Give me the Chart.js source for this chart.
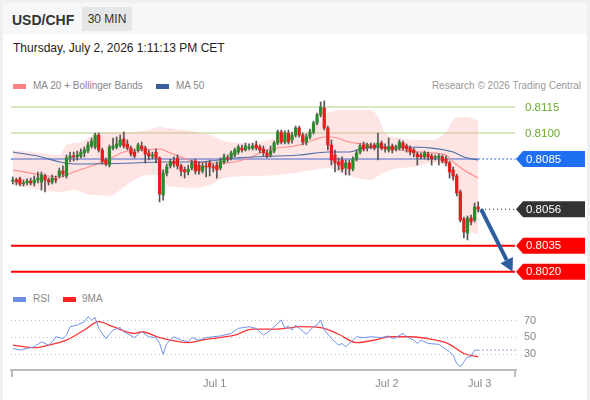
<!DOCTYPE html>
<html><head><meta charset="utf-8">
<script src="https://cdn.jsdelivr.net/npm/chart.js@4.4.1/dist/chart.umd.min.js"></script>
<style>
html,body{margin:0;padding:0;background:#eef0f2;}
body{width:590px;height:400px;position:relative;overflow:hidden;font-family:"Liberation Sans",Arial,sans-serif;}
#card{position:absolute;left:3px;top:3px;width:584px;height:397px;background:#fff;}
#hdr{position:absolute;left:3px;top:3px;width:584px;height:31px;background:#f6f7f8;}
.title{position:absolute;left:12px;top:12px;font-size:14px;font-weight:bold;color:#333;line-height:16px;}
.badge{position:absolute;left:82px;top:7px;width:50px;height:24px;line-height:24px;text-align:center;background:#e5e6e8;color:#333;font-size:12px;}
.date{position:absolute;left:13px;top:41px;font-size:12px;color:#222;line-height:15px;}
.leg{position:absolute;font-size:10px;color:#888;line-height:12px;}
.sw{position:absolute;height:5px;width:13px;}
canvas{position:absolute;left:0;}
</style>
</head><body>
<div id="card"></div>
<div id="hdr"></div>
<div class="title">USD/CHF</div>
<div class="badge">30 MIN</div>
<div class="date">Thursday, July 2, 2026 1:11:13 PM CET</div>
<div class="sw" style="left:13px;top:84px;background:#ff8080;"></div>
<div class="leg" style="left:33px;top:80px;">MA 20 + Bollinger Bands</div>
<div class="sw" style="left:156px;top:84px;background:#3b5f9e;"></div>
<div class="leg" style="left:176px;top:80px;">MA 50</div>
<div class="leg" style="right:9px;top:80px;color:#999;">Research © 2026 Trading Central</div>
<div class="sw" style="left:13px;top:297px;background:#6d8ee6;"></div>
<div class="leg" style="left:33px;top:293px;">RSI</div>
<div class="sw" style="left:63px;top:297px;background:#ff2020;"></div>
<div class="leg" style="left:82px;top:293px;">9MA</div>
<canvas id="main" width="590" height="200" style="top:90px;width:590px;height:200px;"></canvas>
<canvas id="rsi" width="590" height="100" style="top:300px;width:590px;height:100px;"></canvas>
<script>
// ---------- DATA ----------
const candleOpen = [0.80723,0.80729,0.80735,0.80706,0.80712,0.80723,0.80712,0.80729,0.80717,0.80752,
0.80729,0.80717,0.80735,0.80752,0.80781,0.80752,0.80856,0.80867,0.80862,0.80867,
0.80885,0.80896,0.80925,0.80919,0.80988,0.80902,0.80844,0.80815,0.80913,0.80919,
0.80931,0.80965,0.80937,0.80913,0.80890,0.80902,0.80925,0.80913,0.80885,0.80867,
0.80890,0.80856,0.80642,0.80769,0.80810,0.80838,0.80856,0.80810,0.80787,0.80775,
0.80798,0.80838,0.80815,0.80781,0.80810,0.80827,0.80804,0.80815,0.80798,0.80833,
0.80856,0.80856,0.80873,0.80890,0.80913,0.80902,0.80913,0.80913,0.80931,0.80919,
0.80908,0.80885,0.80873,0.80896,0.80942,0.81006,0.80948,0.81000,0.80960,0.80988,
0.81029,0.80988,0.80948,0.80977,0.81006,0.81058,0.81104,0.81144,0.81029,0.80931,
0.80873,0.80833,0.80844,0.80798,0.80827,0.80792,0.80850,0.80890,0.80931,0.80913,
0.80925,0.80931,0.80919,0.80942,0.80919,0.80902,0.80925,0.80908,0.80913,0.80942,
0.80925,0.80913,0.80902,0.80879,0.80873,0.80862,0.80879,0.80867,0.80856,0.80856,
0.80862,0.80850,0.80827,0.80787,0.80752,0.80660,0.80504,0.80423,0.80510,0.80498,
0.80573];
const candleHigh = [0.80746,0.80740,0.80746,0.80729,0.80735,0.80740,0.80752,0.80775,0.80775,0.80763,
0.80740,0.80758,0.80752,0.80798,0.80810,0.80873,0.80890,0.80890,0.80896,0.80908,
0.80919,0.80948,0.80971,0.81000,0.81000,0.80913,0.80856,0.80931,0.80971,0.80977,
0.80988,0.81006,0.80960,0.80925,0.80908,0.80942,0.80948,0.80925,0.80902,0.80890,
0.80908,0.80862,0.80787,0.80821,0.80850,0.80862,0.80873,0.80821,0.80804,0.80815,
0.80844,0.80850,0.80833,0.80827,0.80833,0.80844,0.80821,0.80833,0.80856,0.80879,
0.80873,0.80896,0.80913,0.80931,0.80931,0.80942,0.80937,0.80942,0.80954,0.80931,
0.80925,0.80902,0.80925,0.80954,0.81017,0.81017,0.81012,0.81017,0.81006,0.81040,
0.81040,0.81000,0.80994,0.81023,0.81069,0.81115,0.81179,0.81185,0.81040,0.80960,
0.80902,0.80856,0.80862,0.80844,0.80844,0.80862,0.80902,0.80937,0.80948,0.80942,
0.80942,0.80942,0.81000,0.80954,0.80937,0.80971,0.80937,0.80931,0.80960,0.80954,
0.80937,0.80925,0.80913,0.80890,0.80885,0.80896,0.80890,0.80879,0.80873,0.80879,
0.80873,0.80867,0.80838,0.80804,0.80763,0.80671,0.80515,0.80521,0.80527,0.80596,
0.80602];
const candleLow = [0.80706,0.80700,0.80694,0.80694,0.80700,0.80700,0.80694,0.80712,0.80671,0.80660,
0.80700,0.80706,0.80712,0.80740,0.80746,0.80740,0.80833,0.80838,0.80844,0.80856,
0.80862,0.80885,0.80913,0.80908,0.80890,0.80821,0.80810,0.80804,0.80902,0.80908,
0.80919,0.80913,0.80902,0.80867,0.80856,0.80890,0.80896,0.80827,0.80844,0.80850,
0.80827,0.80602,0.80613,0.80752,0.80798,0.80804,0.80792,0.80752,0.80740,0.80758,
0.80787,0.80763,0.80763,0.80769,0.80746,0.80752,0.80775,0.80740,0.80787,0.80821,
0.80833,0.80844,0.80862,0.80879,0.80890,0.80896,0.80902,0.80902,0.80902,0.80885,
0.80867,0.80856,0.80862,0.80885,0.80931,0.80937,0.80937,0.80937,0.80942,0.80977,
0.80977,0.80931,0.80931,0.80965,0.80994,0.81046,0.81092,0.81017,0.80902,0.80815,
0.80775,0.80787,0.80775,0.80758,0.80758,0.80781,0.80838,0.80879,0.80896,0.80896,
0.80908,0.80902,0.80844,0.80902,0.80890,0.80890,0.80885,0.80896,0.80902,0.80902,
0.80890,0.80873,0.80862,0.80815,0.80850,0.80850,0.80844,0.80815,0.80844,0.80815,
0.80827,0.80810,0.80740,0.80729,0.80637,0.80487,0.80394,0.80383,0.80469,0.80487,
0.80544];
const candleClose = [0.80729,0.80717,0.80706,0.80712,0.80723,0.80712,0.80729,0.80740,0.80758,0.80729,
0.80717,0.80740,0.80729,0.80781,0.80763,0.80856,0.80867,0.80862,0.80873,0.80890,
0.80902,0.80931,0.80954,0.80988,0.80902,0.80838,0.80821,0.80919,0.80925,0.80937,
0.80960,0.80925,0.80913,0.80879,0.80867,0.80931,0.80908,0.80879,0.80867,0.80873,
0.80856,0.80648,0.80769,0.80804,0.80833,0.80821,0.80810,0.80781,0.80775,0.80792,
0.80827,0.80781,0.80781,0.80810,0.80804,0.80804,0.80798,0.80787,0.80838,0.80862,
0.80850,0.80885,0.80902,0.80919,0.80902,0.80925,0.80919,0.80925,0.80913,0.80902,
0.80885,0.80867,0.80896,0.80942,0.81006,0.80948,0.81000,0.80948,0.80988,0.81029,
0.80988,0.80948,0.80977,0.81006,0.81058,0.81104,0.81150,0.81029,0.80931,0.80844,
0.80827,0.80815,0.80792,0.80827,0.80792,0.80850,0.80885,0.80925,0.80908,0.80931,
0.80919,0.80913,0.80942,0.80913,0.80908,0.80919,0.80902,0.80913,0.80948,0.80913,
0.80908,0.80890,0.80885,0.80862,0.80862,0.80885,0.80862,0.80850,0.80862,0.80867,
0.80838,0.80827,0.80775,0.80752,0.80654,0.80498,0.80429,0.80510,0.80487,0.80573,
0.80560];

const bbIdx   = [0,8,13,15,17,19,22,23,27,30,31,34,38,41,43,45,50,55,59,66,74,84,88,93,100,102,104,108,112,117,121,123,125,127,130];
const bbUpper = [0.80902,0.80885,0.80873,0.80931,0.80942,0.80948,0.80983,0.81000,0.81006,0.81006,0.81006,0.81006,0.81017,0.81035,0.81029,0.81023,0.81012,0.80988,0.80954,0.80942,0.80971,0.81029,0.81115,0.81133,0.81133,0.81092,0.81000,0.80971,0.80960,0.80960,0.81006,0.81075,0.81092,0.81092,0.81069];
const bbLower = [0.80700,0.80671,0.80660,0.80665,0.80671,0.80660,0.80642,0.80642,0.80637,0.80671,0.80688,0.80729,0.80758,0.80758,0.80700,0.80688,0.80683,0.80700,0.80740,0.80752,0.80758,0.80787,0.80798,0.80758,0.80729,0.80752,0.80775,0.80798,0.80804,0.80827,0.80815,0.80717,0.80567,0.80452,0.80412];

const ma20Idx = [0,8,13,17,22,27,31,37,41,44,47,50,55,59,66,71,80,84,87,89,94,100,108,117,121,123,126,130];
const ma20Val = [0.80787,0.80758,0.80746,0.80775,0.80810,0.80850,0.80890,0.80902,0.80908,0.80885,0.80862,0.80838,0.80827,0.80827,0.80856,0.80902,0.80931,0.80960,0.80977,0.80977,0.80948,0.80931,0.80902,0.80885,0.80873,0.80833,0.80787,0.80740];

const ma50Idx = [0,8,13,17,34,41,52,62,80,88,94,98,108,117,123,126,130];
const ma50Val = [0.80890,0.80862,0.80833,0.80821,0.80827,0.80833,0.80833,0.80856,0.80873,0.80890,0.80890,0.80913,0.80919,0.80913,0.80890,0.80862,0.80844];

const rsiIdx = [0,2,4,6,8,10,11,12,14,15,16,18,20,21,22,23,24,26,28,30,31,34,36,38,40,41,42,43,45,47,49,50,52,54,58,61,63,66,68,70,72,75,76,77,78,79,82,84,85,86,87,89,91,92,93,95,96,98,100,103,105,106,107,109,110,112,113,114,116,119,120,122,123,124,125,127,128,129,130];
const rsiVal = [36,34,36,38,44,40,44,50,48,52,62,64,68,74,70,73,60,48,58,61,56,49,56,50,49,42,29,42,50,46,44,49,46,49,51,54,60,62,60,52,58,70,60,63,58,64,53,62,64,70,58,48,40,42,38,46,50,49,50,49,51,48,49,54,50,46,42,46,42,41,38,32,28,18,14,26,26,34,34];

const rsiMaIdx = [0,6,10,15,20,24,28,34,36,41,49,54,62,67,73,78,80,86,91,96,102,105,111,117,122,126,130];
const rsiMaVal = [40,37,40,46,58,68,62,54,56,49,43,47,52,59,59,61,62,61,53,43,47,50,50,47,41,30,26];

const greenLevels = [0.8115, 0.8100];
const ma50Level = 0.8085;
const lastPrice = 0.8056;
const redLevels = [0.8035, 0.8020];
const arrowIdx = [130.8, 139.6];
const arrowPrice = [0.8056, 0.8020];
const rsiLevels = [70, 50, 30];
const xTickIdx = [56.4, 104.5, 130.4];
const xTickLabels = ['Jul 1', 'Jul 2', 'Jul 3'];

// ---------- CHART ----------
const FONT = '"Liberation Sans", Arial, sans-serif';
Chart.defaults.font.family = FONT;
const X_MIN = -0.5, X_MAX = 140.56;
const idx = candleOpen.map((_, i) => i);
const pts = (xs, ys) => xs.map((x, i) => ({x: x, y: ys[i]}));

function hline(ctx, x1, x2, py, color, w, dash) {
  ctx.save(); ctx.beginPath(); ctx.strokeStyle = color; ctx.lineWidth = w; ctx.setLineDash(dash || []);
  ctx.moveTo(x1, py); ctx.lineTo(x2, py); ctx.stroke(); ctx.restore();
}
function priceTag(ctx, x0, py, text, color) {
  const h = 8, tip = 7, right = 585;
  ctx.save(); ctx.fillStyle = color; ctx.beginPath();
  ctx.moveTo(x0, py); ctx.lineTo(x0 + tip, py - h); ctx.lineTo(right, py - h);
  ctx.lineTo(right, py + h); ctx.lineTo(x0 + tip, py + h); ctx.closePath(); ctx.fill();
  ctx.fillStyle = '#fff'; ctx.font = '11.5px ' + FONT; ctx.textBaseline = 'middle'; ctx.textAlign = 'left';
  ctx.fillText(text, x0 + 10, py + 0.5); ctx.restore();
}

const mainDecor = {
  id: 'mainDecor',
  beforeDatasetsDraw(chart) {
    const {ctx, chartArea: a, scales: {x, y}} = chart;
    greenLevels.forEach(v => hline(ctx, a.left, a.right - 1, y.getPixelForValue(v), '#c6e1b1', 1.5));
    const xl = x.getPixelForValue(idx[idx.length - 1]);
    const py = y.getPixelForValue(ma50Level);
    hline(ctx, a.left, xl, py, '#4f88ea', 1.6);
    hline(ctx, xl, a.right, py, '#4f88ea', 1.2, [2, 2]);
  },
  afterDatasetsDraw(chart) {
    const {ctx, chartArea: a, scales: {x, y}} = chart;
    redLevels.forEach(v => hline(ctx, a.left, a.right - 1, y.getPixelForValue(v), '#ff0000', 2));
    hline(ctx, x.getPixelForValue(arrowIdx[0]), a.right, y.getPixelForValue(lastPrice), '#222', 1, [1, 3]);
    const x1 = x.getPixelForValue(arrowIdx[0]), y1 = y.getPixelForValue(arrowPrice[0]);
    const x2 = x.getPixelForValue(arrowIdx[1]), y2 = y.getPixelForValue(arrowPrice[1]);
    const ang = Math.atan2(y2 - y1, x2 - x1), hl = 13, hw = 7;
    const bx = x2 - hl * Math.cos(ang), by = y2 - hl * Math.sin(ang);
    ctx.save();
    ctx.strokeStyle = '#2d5e9f'; ctx.fillStyle = '#2d5e9f'; ctx.lineWidth = 4;
    ctx.beginPath(); ctx.moveTo(x1, y1); ctx.lineTo(bx, by); ctx.stroke();
    ctx.beginPath(); ctx.moveTo(x2, y2);
    ctx.lineTo(bx + hw * Math.sin(ang), by - hw * Math.cos(ang));
    ctx.lineTo(bx - hw * Math.sin(ang), by + hw * Math.cos(ang));
    ctx.closePath(); ctx.fill();
    ctx.restore();
    ctx.save();
    ctx.font = '11.5px ' + FONT; ctx.textBaseline = 'middle'; ctx.fillStyle = '#6aab2c';
    greenLevels.forEach(v => ctx.fillText(v.toFixed(4), 525, y.getPixelForValue(v) + 0.5));
    ctx.restore();
    priceTag(ctx, a.right, y.getPixelForValue(ma50Level), ma50Level.toFixed(4), '#1f6ff2');
    priceTag(ctx, a.right, y.getPixelForValue(lastPrice), lastPrice.toFixed(4), '#333333');
    redLevels.forEach(v => priceTag(ctx, a.right, y.getPixelForValue(v), v.toFixed(4), '#ff0000'));
  }
};

new Chart(document.getElementById('main'), {
  type: 'bar',
  data: { datasets: [
    { type: 'line', data: pts(bbIdx, bbUpper), borderColor: 'transparent', borderWidth: 0, pointRadius: 0,
      fill: '+1', backgroundColor: 'rgba(255,165,165,0.30)', cubicInterpolationMode: 'monotone', order: 6 },
    { type: 'line', data: pts(bbIdx, bbLower), borderColor: 'transparent', borderWidth: 0, pointRadius: 0,
      fill: false, cubicInterpolationMode: 'monotone', order: 6 },
    { type: 'line', data: pts(ma20Idx, ma20Val), borderColor: '#ff8c8c', borderWidth: 1.1, pointRadius: 0,
      fill: false, cubicInterpolationMode: 'monotone', order: 5 },
    { type: 'line', data: pts(ma50Idx, ma50Val), borderColor: '#4e6fa8', borderWidth: 1.1, pointRadius: 0,
      fill: false, cubicInterpolationMode: 'monotone', order: 4 },
    { type: 'bar', data: idx.map(i => ({x: i, y: [candleLow[i], candleHigh[i]]})), backgroundColor: '#555',
      barThickness: 1, grouped: false, order: 2 },
    { type: 'bar', data: idx.map(i => ({x: i, y: [candleOpen[i], candleClose[i]]})),
      backgroundColor: idx.map(i => candleClose[i] >= candleOpen[i] ? '#2b8a2b' : '#e41d1d'),
      barThickness: 2.6, minBarLength: 1, grouped: false, order: 1 }
  ]},
  options: {
    responsive: false, animation: false, events: [],
    layout: { padding: { left: 11, right: 74, top: 0, bottom: 0 } },
    plugins: { legend: { display: false }, tooltip: { enabled: false } },
    scales: {
      x: { type: 'linear', min: X_MIN, max: X_MAX, display: false, offset: false },
      y: { type: 'linear', min: 0.8009423, max: 0.8124808, display: false }
    }
  },
  plugins: [mainDecor]
});

const rsiDecor = {
  id: 'rsiDecor',
  beforeDatasetsDraw(chart) {
    const {ctx, chartArea: a, scales: {y}} = chart;
    rsiLevels.forEach(v => hline(ctx, a.left, a.right, Math.round(y.getPixelForValue(v)) + 0.5, '#c4c4c4', 1, [1, 3]));
  },
  afterDraw(chart) {
    const {ctx, chartArea: a, scales: {x, y}} = chart;
    const lx = x.getPixelForValue(rsiIdx[rsiIdx.length - 1]);
    const ly = y.getPixelForValue(rsiVal[rsiVal.length - 1]);
    hline(ctx, lx, a.right, ly, '#6d8ee6', 1, [1.5, 2.5]);
    ctx.save();
    ctx.font = '11px ' + FONT; ctx.textBaseline = 'middle'; ctx.fillStyle = '#888';
    rsiLevels.forEach(v => ctx.fillText(String(v), 524, y.getPixelForValue(v) + 0.5));
    ctx.strokeStyle = '#bdbdbd'; ctx.lineWidth = 2;
    [a.left + 1, a.right - 1].forEach(px => { ctx.beginPath(); ctx.moveTo(px, a.bottom); ctx.lineTo(px, a.bottom + 7); ctx.stroke(); });
    ctx.restore();
  }
};

new Chart(document.getElementById('rsi'), {
  type: 'line',
  data: { datasets: [
    { data: pts(rsiMaIdx, rsiMaVal), borderColor: '#ff3535', borderWidth: 1.3, pointRadius: 0,
      cubicInterpolationMode: 'monotone', fill: false, order: 2 },
    { data: pts(rsiIdx, rsiVal), borderColor: '#7194ea', borderWidth: 1, pointRadius: 0, fill: false, order: 1 }
  ]},
  options: {
    responsive: false, animation: false, events: [],
    layout: { padding: { left: 11, right: 74, top: 0, bottom: 0 } },
    plugins: { legend: { display: false }, tooltip: { enabled: false } },
    scales: {
      x: { type: 'linear', min: X_MIN, max: X_MAX, offset: false,
        grid: { display: false, drawTicks: false },
        border: { display: true, color: '#bdbdbd', width: 2 },
        ticks: { autoSkip: false, maxRotation: 0, padding: 7, color: '#888', font: { size: 11 },
          callback: (v) => { const k = xTickIdx.indexOf(v); return k >= 0 ? xTickLabels[k] : ''; } },
        afterBuildTicks: (s) => { s.ticks = xTickIdx.map(v => ({ value: v })); },
        afterFit: (s) => { s.height = 30; } },
      y: { type: 'linear', min: 10.3, max: 93.9, display: false }
    }
  },
  plugins: [rsiDecor]
});
</script>
</body></html>
